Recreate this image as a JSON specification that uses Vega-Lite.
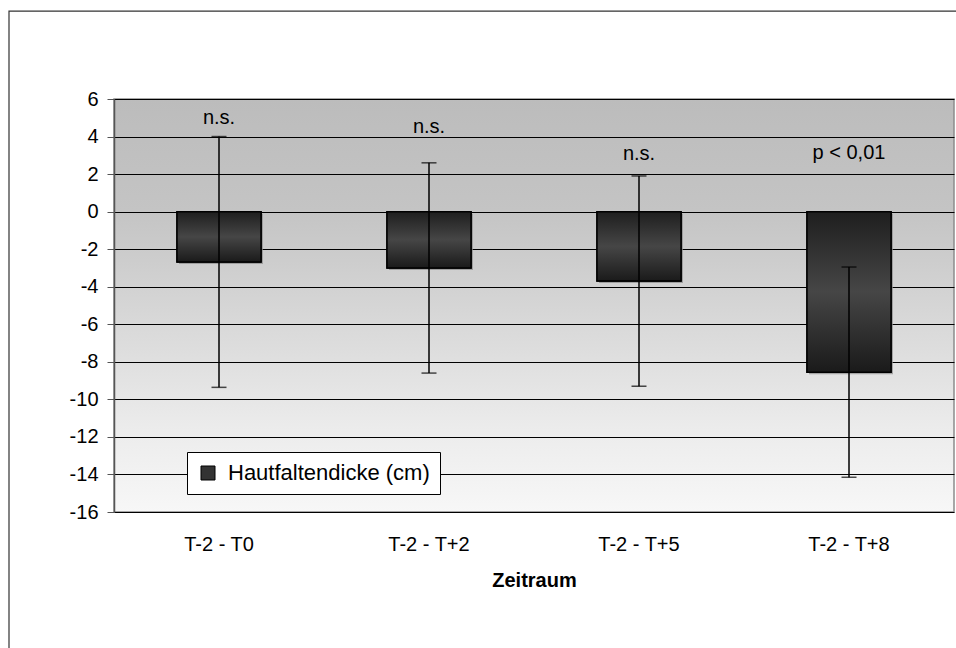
{
  "$schema": "https://vega.github.io/schema/vega-lite/v6.json",
  "width": 840,
  "height": 413,
  "autosize": {"type": "none"},
  "padding": {"left": 114, "top": 99, "right": 2, "bottom": 136},
  "background": "white",
  "view": {
    "fill": {"expr": "{gradient: 'linear', x1: 0, y1: 0, x2: 0, y2: 1, stops: [{offset: 0, color: '#bcbcbc'}, {offset: 0.27, color: '#c4c4c4'}, {offset: 0.55, color: '#d9d9d9'}, {offset: 0.8, color: '#ececec'}, {offset: 1, color: '#f7f7f7'}]}"},
    "stroke": "#8c8c8c",
    "strokeWidth": 1.5
  },
  "datasets": {
    "bars": [
      {"cat": "T-2 - T0", "value": -2.68, "lo": -9.36, "hi": 4.0, "series": "Hautfaltendicke (cm)"},
      {"cat": "T-2 - T+2", "value": -3.0, "lo": -8.6, "hi": 2.6, "series": "Hautfaltendicke (cm)"},
      {"cat": "T-2 - T+5", "value": -3.7, "lo": -9.3, "hi": 1.9, "series": "Hautfaltendicke (cm)"},
      {"cat": "T-2 - T+8", "value": -8.55, "lo": -14.15, "hi": -2.95, "series": "Hautfaltendicke (cm)"}
    ],
    "notes": [
      {"cat": "T-2 - T0", "y": 5.0, "text": "n.s."},
      {"cat": "T-2 - T+2", "y": 4.5, "text": "n.s."},
      {"cat": "T-2 - T+5", "y": 3.07, "text": "n.s."},
      {"cat": "T-2 - T+8", "y": 3.12, "text": "p < 0,01"}
    ]
  },
  "layer": [
    {
      "data": {"name": "bars"},
      "encoding": {
        "x": {"field": "cat", "type": "nominal", "sort": null, "axis": null,
              "scale": {"paddingInner": 0.6, "paddingOuter": 0.3}},
        "y": {"field": "value", "type": "quantitative",
              "scale": {"domain": [-16, 6], "nice": false, "zero": false},
              "axis": {"title": null, "values": [-16, -14, -12, -10, -8, -6, -4, -2, 0, 2, 4, 6]}}
      },
      "layer": [
        {
          "mark": {"type": "bar", "color": "#8a8a8a", "opacity": 0.7, "xOffset": 2, "yOffset": 2},
          "encoding": {
            "x": {"field": "cat", "type": "nominal", "sort": null,
                  "axis": {"orient": "top", "offset": -113, "labels": false, "domain": false,
                           "ticks": true, "tickBand": "extent", "tickSize": -6, "tickColor": "black",
                           "tickWidth": 1, "grid": false, "title": null}}
          }
        },
        {
          "mark": {"type": "bar", "stroke": "black", "strokeWidth": 1.5},
          "encoding": {
            "x": {"field": "cat", "type": "nominal", "sort": null, "title": "Zeitraum",
                  "axis": {"orient": "bottom", "title": "Zeitraum"}},
            "color": {"field": "series", "type": "nominal",
                      "scale": {"range": ["#333333"]},
                      "legend": {"title": null, "orient": "none", "legendX": 73, "legendY": 353,
                                 "fillColor": "white", "strokeColor": "black", "padding": 10,
                                 "symbolType": "square", "symbolSize": 196,
                                 "symbolStrokeColor": "black", "symbolStrokeWidth": 1,
                                 "labelFont": "Liberation Sans", "labelFontSize": 22, "labelLimit": 400,
                                 "labelOffset": 9, "labelColor": "black"}}
          }
        },
        {
          "mark": {"type": "bar", "stroke": "black", "strokeWidth": 1.5,
                   "color": {"gradient": "linear", "x1": 0, "y1": 0, "x2": 0, "y2": 1,
                             "stops": [{"offset": 0, "color": "#1e1e1e"}, {"offset": 0.5, "color": "#464646"}, {"offset": 1, "color": "#1a1a1a"}]}}
        },
        {
          "mark": {"type": "rule", "color": "black", "strokeWidth": 1.5},
          "encoding": {
            "y": {"field": "lo", "type": "quantitative", "axis": {"title": null, "values": [-16, -14, -12, -10, -8, -6, -4, -2, 0, 2, 4, 6]}},
            "y2": {"field": "hi"}
          }
        },
        {
          "mark": {"type": "tick", "color": "black", "thickness": 1.5, "size": 15, "orient": "horizontal"},
          "encoding": {"y": {"field": "lo", "type": "quantitative", "axis": {"title": null, "values": [-16, -14, -12, -10, -8, -6, -4, -2, 0, 2, 4, 6]}}}
        },
        {
          "mark": {"type": "tick", "color": "black", "thickness": 1.5, "size": 15, "orient": "horizontal"},
          "encoding": {"y": {"field": "hi", "type": "quantitative", "axis": {"title": null, "values": [-16, -14, -12, -10, -8, -6, -4, -2, 0, 2, 4, 6]}}}
        },
        {
          "data": {"name": "notes"},
          "mark": {"type": "text", "font": "Liberation Sans", "fontSize": 20, "color": "black", "baseline": "middle", "align": "center"},
          "encoding": {
            "y": {"field": "y", "type": "quantitative", "axis": {"title": null, "values": [-16, -14, -12, -10, -8, -6, -4, -2, 0, 2, 4, 6]}},
            "text": {"field": "text"}
          }
        }
      ],
      "resolve": {"axis": {"x": "independent"}}
    },
    {
      "data": {"values": [{}]},
      "mark": {"type": "rect", "filled": false, "stroke": "#333333", "strokeWidth": 1.2, "clip": false},
      "encoding": {
        "x": {"datum": -0.125, "type": "quantitative", "scale": {"domain": [0, 1]}, "axis": null},
        "x2": {"datum": 1.2},
        "y": {"datum": 1.213, "type": "quantitative", "scale": {"domain": [0, 1]}, "axis": null},
        "y2": {"datum": -0.8}
      }
    }
  ],
  "resolve": {"scale": {"x": "independent", "y": "independent"}},
  "config": {
    "axisY": {
      "domain": true, "domainColor": "#555555", "domainWidth": 1.5,
      "ticks": true, "tickColor": "#555555", "tickSize": 7, "tickWidth": 1,
      "grid": true, "gridColor": "#000000", "gridWidth": 1,
      "labelOverlap": false,
      "labelExpr": "replace(datum.label, '\u2212', '-')",
      "labelFont": "Liberation Sans", "labelFontSize": 20, "labelColor": "black", "labelPadding": 9
    },
    "axisX": {
      "domain": false, "ticks": false, "grid": false,
      "labelFont": "Liberation Sans", "labelFontSize": 20, "labelColor": "black", "labelPadding": 22, "labelAngle": 0,
      "titleFont": "Liberation Sans", "titleFontSize": 20, "titleFontWeight": "bold", "titleColor": "black", "titlePadding": 16
    }
  }
}
